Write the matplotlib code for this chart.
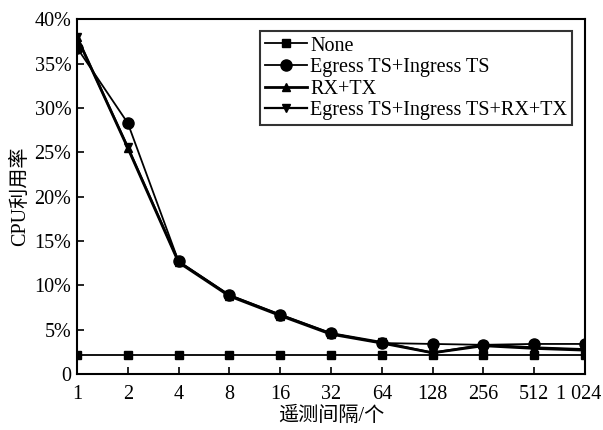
import matplotlib
matplotlib.use("Agg")
import matplotlib.pyplot as plt
import matplotlib.transforms as mtransforms

plt.rcParams['font.family'] = ['Liberation Serif', 'Noto Sans CJK SC']

# data (CPU usage, %)
intervals = ['1', '2', '4', '8', '16', '32', '64', '128', '256', '512', '1 024']
none = [2.1, 2.1, 2.1, 2.1, 2.1, 2.1, 2.1, 2.1, 2.1, 2.1, 2.1]
egress_ingress = [36.8, 28.3, 12.7, 8.9, 6.7, 4.6, 3.5, 3.4, 3.3, 3.4, 3.4]
rx_tx = [38.0, 25.5, 12.6, 8.8, 6.6, 4.5, 3.5, 2.4, 3.2, 2.9, 2.7]
all_ts = [38.0, 25.6, 12.7, 8.9, 6.7, 4.6, 3.6, 2.4, 3.3, 3.0, 2.8]

x = list(range(len(intervals)))

fig = plt.figure(figsize=(6.03, 4.30), dpi=100)
ax = fig.add_axes([0.1277, 0.130, 0.8425, 0.825])

ax.plot(x, none, color='black', lw=1.3, marker='s', ms=6, label='None')
ax.plot(x, egress_ingress, color='black', lw=1.3, marker='o', ms=8, label='Egress TS+Ingress TS')
ax.plot(x, rx_tx, color='black', lw=2.0, marker='^', ms=6, label='RX+TX')
ax.plot(x, all_ts, color='black', lw=1.6, marker='v', ms=6, label='Egress TS+Ingress TS+RX+TX')

ax.set_xlim(0, len(intervals) - 1)
ax.set_ylim(0, 40)
ax.set_xticks(x)
ax.set_xticklabels(intervals)
ax.set_yticks(range(0, 45, 5))
ax.set_yticklabels(['0'] + [f'{v}%' for v in range(5, 45, 5)])
ax.tick_params(direction='in', length=5, width=1.2, labelsize=14.5, pad=8)
ax.tick_params(axis='y', pad=4)
for s in ax.spines.values():
    s.set_linewidth(1.5)

# nudge the last x label left so it stays inside the figure
last = ax.get_xticklabels()[-1]
last.set_transform(last.get_transform() + mtransforms.ScaledTranslation(-6 / 100, 0, fig.dpi_scale_trans))

ax.set_xlabel('遥测间隔/个', fontsize=14.5, labelpad=2)
ax.set_ylabel('CPU利用率', fontsize=14.5, labelpad=3)

leg = ax.legend(loc='upper right', bbox_to_anchor=(0.975, 0.966), fontsize=14.5,
                frameon=True, fancybox=False, edgecolor='black', handlelength=2.1,
                handletextpad=0.15, borderpad=0.25, labelspacing=0.12, borderaxespad=0)
leg.get_frame().set_linewidth(1.5)

fig.savefig('out.png', dpi=100)
